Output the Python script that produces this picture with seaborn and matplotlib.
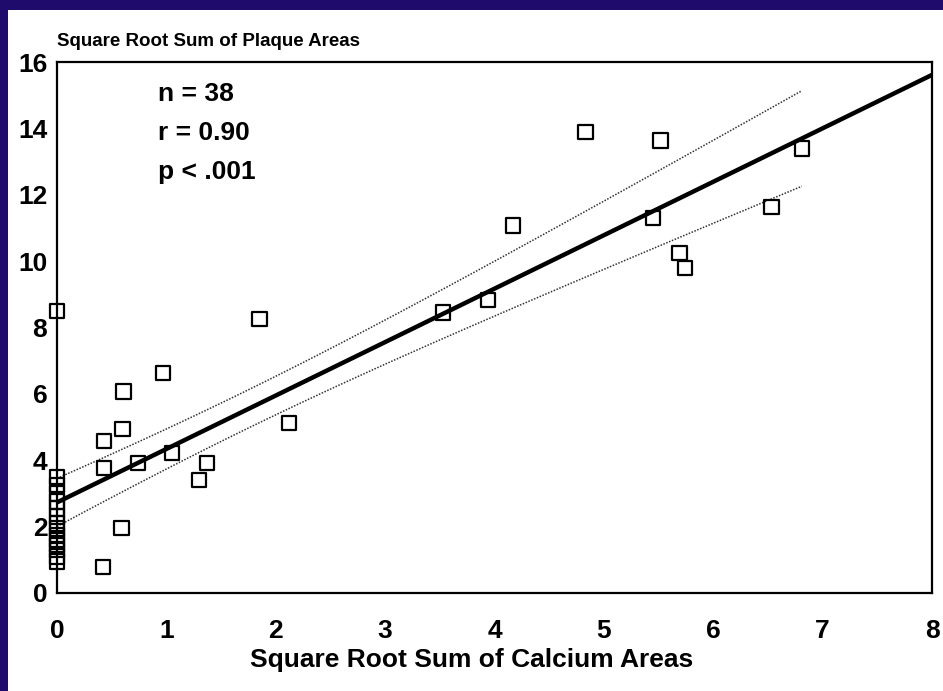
import numpy as np
import pandas as pd
import matplotlib
matplotlib.use("Agg")
import matplotlib.pyplot as plt
from matplotlib.patches import Rectangle
import seaborn as sns

# --- dane ---
# punkty z x = 0 (kolumna przy osi Y)
x_zero_col = [0.0] * 15
y_zero_col = [8.5, 3.5, 3.25, 3.0, 2.75, 2.55, 2.3, 2.1, 1.95, 1.75, 1.6, 1.45, 1.3, 1.1, 0.95]

# pozostale punkty
x_rest = [0.42, 0.43, 0.43, 0.60, 0.61, 0.59, 0.74, 0.97, 1.05, 1.30, 1.37, 1.85,
          2.12, 3.53, 3.94, 4.17, 4.83, 5.52, 6.81, 5.45, 6.53, 5.69, 5.74]
y_rest = [0.78, 4.58, 3.77, 4.94, 6.08, 1.96, 3.92, 6.63, 4.22, 3.40, 3.92, 8.25,
          5.12, 8.46, 8.83, 11.08, 13.89, 13.64, 13.40, 11.30, 11.63, 10.24, 9.79]

x_ticks = [0, 1, 2, 3, 4, 5, 6, 7, 8]
y_ticks = [0, 2, 4, 6, 8, 10, 12, 14, 16]

stats_lines = ["n = 38", "r = 0.90", "p < .001"]
title_y = "Square Root Sum of Plaque Areas"
title_x = "Square Root Sum of Calcium Areas"

NAVY = "#1f0b6b"

df = pd.DataFrame({"calc": x_zero_col + x_rest, "plaque": y_zero_col + y_rest})

# --- regresja liniowa + 95% przedzial ufnosci dla sredniej ---
n = len(df)
xv, yv = df["calc"].values, df["plaque"].values
slope, intercept = np.polyfit(xv, yv, 1)
resid = yv - (intercept + slope * xv)
s = np.sqrt(np.sum(resid ** 2) / (n - 2))
sxx = np.sum((xv - xv.mean()) ** 2)
t_crit = 2.028  # t(0.975, df=36)

x_line = np.linspace(0, 8, 50)
y_line = intercept + slope * x_line
x_ci = np.linspace(0, xv.max(), 50)
half = t_crit * s * np.sqrt(1 / n + (x_ci - xv.mean()) ** 2 / sxx)
y_fit_ci = intercept + slope * x_ci

# --- wykres ---
sns.set_style("white")
plt.rcParams["font.family"] = ["Liberation Sans", "DejaVu Sans"]
plt.rcParams["font.weight"] = "bold"
for key in ["text.color", "axes.labelcolor", "xtick.color", "ytick.color"]:
    plt.rcParams[key] = "black"

fig = plt.figure(figsize=(9.43, 6.91), dpi=100, facecolor=NAVY)
fig.patches.append(Rectangle((8 / 943, 0), 1, 1 - 10 / 691, transform=fig.transFigure,
                             facecolor="white", edgecolor="none", zorder=-1))
ax = fig.add_axes([57 / 943, 1 - 593 / 691, 875 / 943, 531 / 691])
ax.set_facecolor("white")

sns.lineplot(x=x_line, y=y_line, color="black", lw=3.2, ax=ax)
sns.lineplot(x=x_ci, y=y_fit_ci + half, color="#333333", lw=1.1, ls=(0, (1, 1)), ax=ax)
sns.lineplot(x=x_ci, y=y_fit_ci - half, color="#333333", lw=1.1, ls=(0, (1, 1)), ax=ax)
sns.scatterplot(data=df, x="calc", y="plaque", marker="s", s=110, facecolor="none",
                edgecolor="black", linewidth=1.6, ax=ax, zorder=3, clip_on=False)

ax.set_xlim(0, 8)
ax.set_ylim(0, 16)
ax.set_xticks(x_ticks)
ax.set_yticks(y_ticks)
ax.tick_params(axis="x", direction="in", length=7, width=1.3, pad=19, labelsize=19)
ax.tick_params(axis="y", direction="in", length=7, width=1.3, pad=7, labelsize=19)
for lab in ax.get_xticklabels() + ax.get_yticklabels():
    lab.set_fontweight("bold")
for sp in ax.spines.values():
    sp.set_visible(True)
    sp.set_color("black")
    sp.set_linewidth(1.6)

ax.set_xlabel(title_x, fontsize=19, fontweight="bold")
ax.xaxis.set_label_coords(0.474, -0.104)
ax.set_ylabel("")
ax.text(0, 1.022, title_y, transform=ax.transAxes, ha="left", va="bottom",
        fontsize=13.5, fontweight="bold")

for i, line in enumerate(stats_lines):
    ax.text(0.115, 0.94 - i * 0.0735, line, transform=ax.transAxes, ha="left", va="center",
            fontsize=19, fontweight="bold")

fig.savefig("out.png", dpi=100, facecolor=NAVY)
